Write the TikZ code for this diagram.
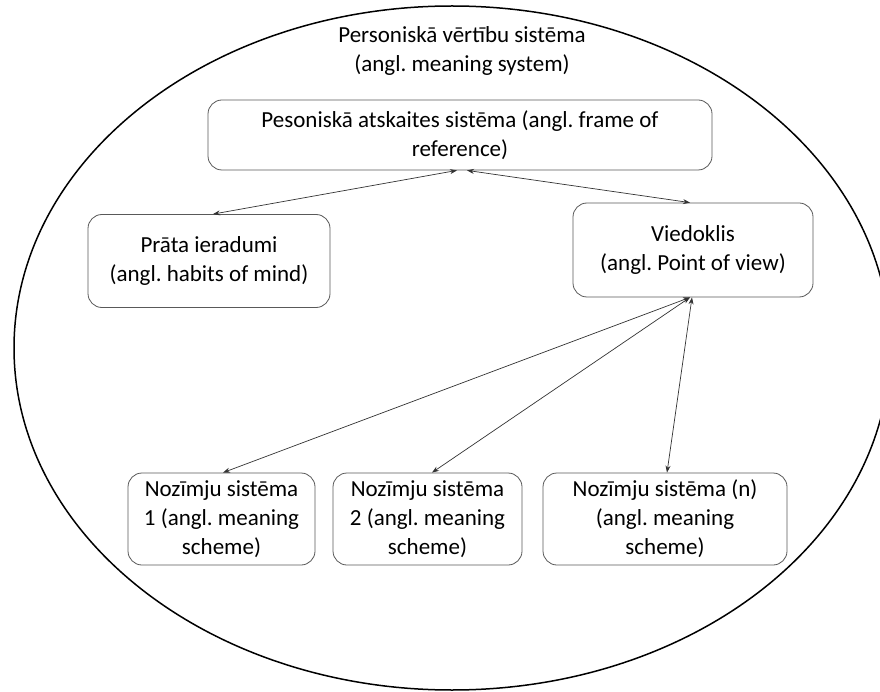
\documentclass[tikz,border=0pt]{standalone}
\usepackage{fontspec}
\setmainfont{Carlito}
\usetikzlibrary{arrows.meta,calc}
\frenchspacing
\begin{document}
\begin{tikzpicture}[x=1pt,y=-1pt,
  txt/.style={font=\fontsize{23}{29}\selectfont, align=center, inner sep=0pt},
  box/.style={draw=black!65, line width=0.8pt, rounded corners=14pt, fill=white},
  conn/.style={draw=black!80, line width=0.7pt, {Stealth[length=7pt,width=5pt]}-{Stealth[length=7pt,width=5pt]}}
]
\fill[white] (0,0) rectangle (880,692);
\useasboundingbox (0,0) rectangle (880,692);
\draw[line width=1.5pt] (452,348) ellipse [x radius=438, y radius=342];
\node[txt] (title) at (462,51) {Personiskā vērtību sistēma\\(angl. meaning system)};

\node[box, minimum width=504pt, minimum height=70pt] (top) at (460,135) {};
\node[txt] at (top.center) {Pesoniskā atskaites sistēma (angl. frame of\\reference)};

\node[box, minimum width=242pt, minimum height=93pt] (prata) at (209,261) {};
\node[txt] at (prata.center) {Prāta ieradumi\\(angl. habits of mind)};

\node[box, minimum width=240pt, minimum height=94pt] (vied) at (693,250) {};
\node[txt] at (vied.center) {Viedoklis\\(angl. Point of view)};

\node[box, minimum width=187pt, minimum height=92pt] (n1) at (221.5,519) {};
\node[txt] at (n1.center) {Nozīmju sistēma\\1 (angl. meaning\\scheme)};
\node[box, minimum width=189pt, minimum height=92pt] (n2) at (427.5,519) {};
\node[txt] at (n2.center) {Nozīmju sistēma\\2 (angl. meaning\\scheme)};
\node[box, minimum width=244pt, minimum height=92pt] (n3) at (665,519) {};
\node[txt] at (n3.center) {Nozīmju sistēma (n)\\(angl. meaning\\scheme)};

\draw[conn] ($(top.south)+(-3,0)$) -- ($(prata.north)+(4,0)$);
\draw[conn] ($(top.south)+(7,0)$) -- ($(vied.north)+(-3,0)$);
\draw[conn] ($(vied.south)+(-3,0)$) -- ($(n1.north)+(1.5,0)$);
\draw[conn] ($(vied.south)+(-3,0)$) -- ($(n2.north)+(4.5,0)$);
\draw[conn] ($(vied.south)+(-1,0)$) -- ($(n3.north)+(2,0)$);
\end{tikzpicture}
\end{document}
